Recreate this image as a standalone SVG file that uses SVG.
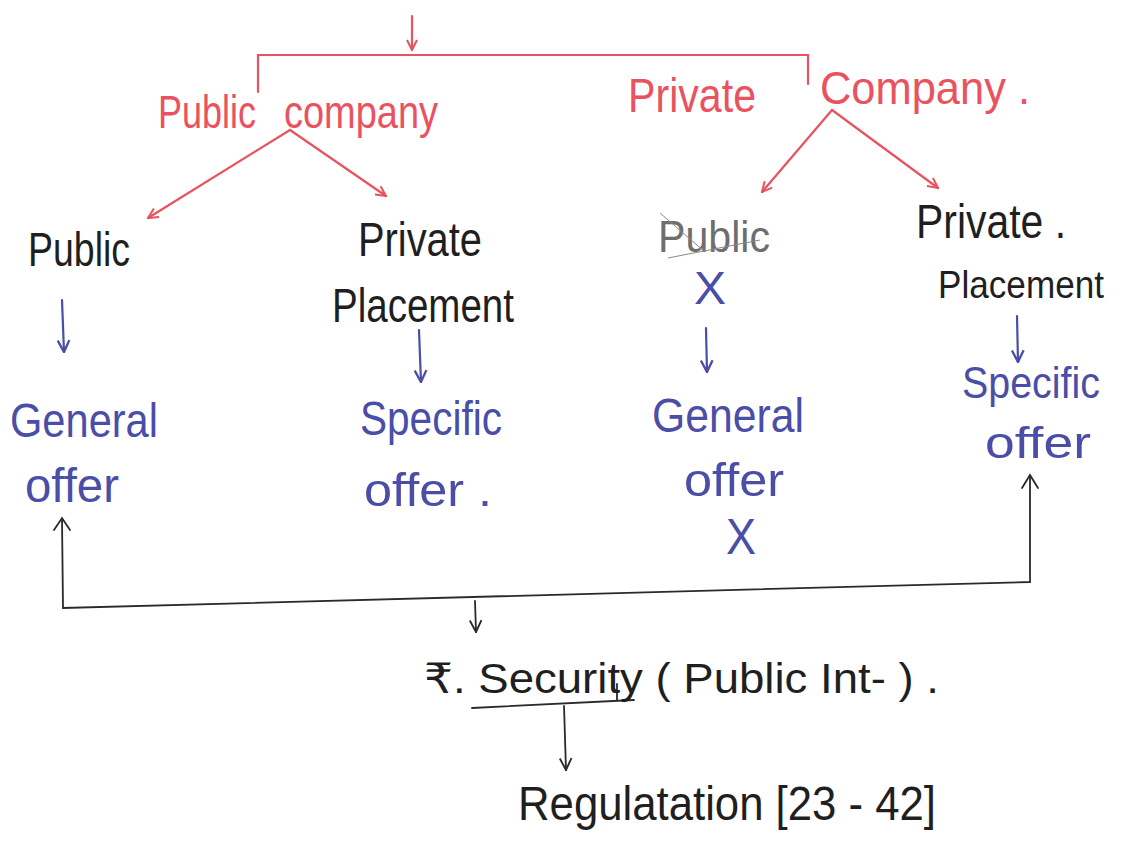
<svg xmlns="http://www.w3.org/2000/svg" width="1127" height="843" viewBox="0 0 1127 843">
  <style>
    text { font-family: "Liberation Sans Narrow", "Liberation Sans", "DejaVu Sans", sans-serif; }
    .red { fill: #e9525e; }
    .blue { fill: #4a4ea6; }
    .ink { fill: #1f1f1f; }
    .grey { fill: #6e6e6e; }
    .lr { stroke: #e9525e; stroke-width: 2.2; fill: none; stroke-linecap: round; }
    .lb { stroke: #4a4ea6; stroke-width: 2.2; fill: none; stroke-linecap: round; }
    .lk { stroke: #2a2a2a; stroke-width: 1.8; fill: none; stroke-linecap: round; }
  </style>
  <defs>
    <marker id="headRed" viewBox="0 0 12 12" refX="11" refY="6" markerWidth="12" markerHeight="12" markerUnits="userSpaceOnUse" orient="auto">
      <path d="M1,1 L11,6 L1,11" stroke="#e9525e" stroke-width="2" fill="none"/>
    </marker>
    <marker id="headBlue" viewBox="0 0 12 12" refX="11" refY="6" markerWidth="14" markerHeight="14" markerUnits="userSpaceOnUse" orient="auto">
      <path d="M1,1 L11,6 L1,11" stroke="#4a4ea6" stroke-width="2" fill="none"/>
    </marker>
    <marker id="headInk" viewBox="0 0 12 12" refX="11" refY="6" markerWidth="14" markerHeight="14" markerUnits="userSpaceOnUse" orient="auto">
      <path d="M1,1 L11,6 L1,11" stroke="#2a2a2a" stroke-width="1.6" fill="none"/>
    </marker>
  </defs>

  <rect width="1127" height="843" fill="#ffffff"/>

  <g id="connectors">
    <!-- red split from the top -->
    <line class="lr" x1="412" y1="16" x2="412" y2="50" marker-end="url(#headRed)"/>
    <polyline class="lr" points="258,92 258,55 808,55 808,84"/>
    <line class="lr" x1="290" y1="130" x2="148" y2="218" marker-end="url(#headRed)"/>
    <line class="lr" x1="290" y1="130" x2="386" y2="196" marker-end="url(#headRed)"/>
    <line class="lr" x1="832" y1="110" x2="762" y2="192" marker-end="url(#headRed)"/>
    <line class="lr" x1="832" y1="110" x2="938" y2="188" marker-end="url(#headRed)"/>
    <!-- blue drops to the offer types -->
    <line class="lb" x1="62" y1="300" x2="64" y2="352" marker-end="url(#headBlue)"/>
    <line class="lb" x1="419" y1="330" x2="421" y2="382" marker-end="url(#headBlue)"/>
    <line class="lb" x1="706" y1="328" x2="707" y2="372" marker-end="url(#headBlue)"/>
    <line class="lb" x1="1017" y1="316" x2="1018" y2="362" marker-end="url(#headBlue)"/>
    <!-- black bracket joining general and specific offer -->
    <polyline class="lk" points="62,519 63,608 1030,582 1030,476" />
    <path class="lk" d="M54,530 L62,518 L70,530"/>
    <path class="lk" d="M1022,488 L1030,475 L1038,488"/>
    <line class="lk" x1="475" y1="601" x2="476" y2="632" marker-end="url(#headInk)"/>
    <!-- from security to regulation -->
    <line class="lk" x1="472" y1="708" x2="634" y2="700"/>
    <line class="lk" x1="617" y1="684" x2="617" y2="700"/>
    <line class="lk" x1="564" y1="706" x2="566" y2="770" marker-end="url(#headInk)"/>
  </g>

  <g id="public-company">
    <text class="red" x="158" y="128" font-size="46" textLength="98" lengthAdjust="spacingAndGlyphs">Public</text>
    <text class="red" x="284" y="128" font-size="46" textLength="154" lengthAdjust="spacingAndGlyphs">company</text>
  </g>
  <g id="private-company">
    <text class="red" x="628" y="112" font-size="48" textLength="128" lengthAdjust="spacingAndGlyphs">Private</text>
    <text class="red" x="820" y="104" font-size="46" textLength="210" lengthAdjust="spacingAndGlyphs">Company .</text>
  </g>

  <g id="public-issue">
    <text class="ink" x="28" y="266" font-size="48" textLength="102" lengthAdjust="spacingAndGlyphs">Public</text>
  </g>
  <g id="private-placement-1">
    <text class="ink" x="358" y="256" font-size="48" textLength="124" lengthAdjust="spacingAndGlyphs">Private</text>
    <text class="ink" x="332" y="322" font-size="48" textLength="182" lengthAdjust="spacingAndGlyphs">Placement</text>
  </g>
  <g id="public-struck">
    <text class="grey" x="658" y="252" font-size="44" textLength="112" lengthAdjust="spacingAndGlyphs">Public</text>
    <path d="M660,213 L705,252 M668,258 L760,240" stroke="#8a8a8a" stroke-width="1" fill="none"/>
    <text class="blue" x="694" y="304" font-size="46" textLength="32" lengthAdjust="spacingAndGlyphs">X</text>
  </g>
  <g id="private-placement-2">
    <text class="ink" x="916" y="238" font-size="48" textLength="150" lengthAdjust="spacingAndGlyphs">Private .</text>
    <text class="ink" x="938" y="298" font-size="39" textLength="166" lengthAdjust="spacingAndGlyphs">Placement</text>
  </g>

  <g id="general-offer-1">
    <text class="blue" x="10" y="437" font-size="48" textLength="148" lengthAdjust="spacingAndGlyphs">General</text>
    <text class="blue" x="25" y="502" font-size="48" textLength="94" lengthAdjust="spacingAndGlyphs">offer</text>
  </g>
  <g id="specific-offer-1">
    <text class="blue" x="360" y="435" font-size="48" textLength="142" lengthAdjust="spacingAndGlyphs">Specific</text>
    <text class="blue" x="364" y="506" font-size="46" textLength="128" lengthAdjust="spacingAndGlyphs">offer .</text>
  </g>
  <g id="general-offer-2">
    <text class="blue" x="652" y="432" font-size="48" textLength="152" lengthAdjust="spacingAndGlyphs">General</text>
    <text class="blue" x="684" y="496" font-size="46" textLength="100" lengthAdjust="spacingAndGlyphs">offer</text>
    <text class="blue" x="726" y="554" font-size="50" textLength="30" lengthAdjust="spacingAndGlyphs">X</text>
  </g>
  <g id="specific-offer-2">
    <text class="blue" x="962" y="398" font-size="44" textLength="138" lengthAdjust="spacingAndGlyphs">Specific</text>
    <text class="blue" x="985" y="458" font-size="44" textLength="106" lengthAdjust="spacingAndGlyphs">offer</text>
  </g>

  <g id="security">
    <text class="ink" x="424" y="693" font-size="42" textLength="515" lengthAdjust="spacingAndGlyphs">₹. Security ( Public   Int- ) .</text>
  </g>
  <g id="regulation">
    <text class="ink" x="518" y="820" font-size="48" textLength="418" lengthAdjust="spacingAndGlyphs">Regulatation [23 - 42]</text>
  </g>
</svg>
